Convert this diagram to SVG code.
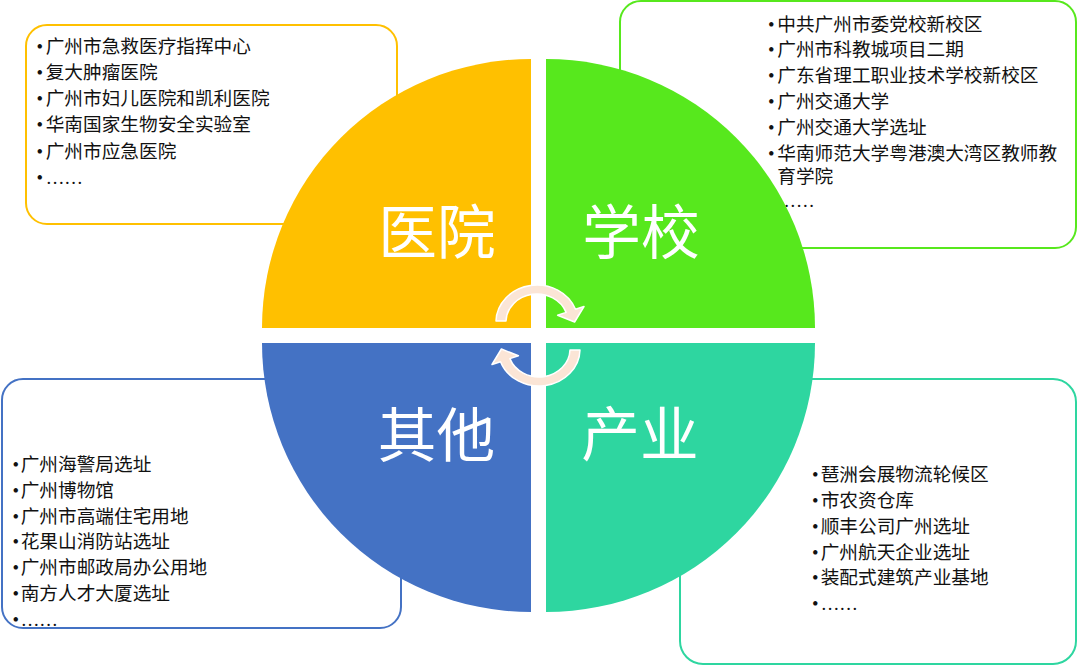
<svg xmlns="http://www.w3.org/2000/svg" width="1078" height="666" viewBox="0 0 1078 666">
<style>
.box{fill:#fff;stroke-width:2}
.t{font-family:"Liberation Serif","Noto Sans CJK SC",serif;font-size:18.67px;fill:#111}
.lbl{font-family:"Noto Sans CJK SC","Noto Sans",sans-serif;font-size:58.67px;fill:#fff;text-anchor:middle}
.arr{fill:#FBE5D6;stroke:#fff;stroke-width:1.5;stroke-linejoin:round}
</style>
<defs>
<path id="cyc" d="M496,321 A41,37 0 0 1 575.5,309.3 L584,306.5 L574.6,322 L557.6,315.2 L566.1,312.4 A31,28 0 0 0 506,321 Z"/>
</defs>
<rect width="1078" height="666" fill="#fff"/>

<g id="node-yiyuan">
<rect class="box" x="26" y="25" width="371" height="199" rx="21" stroke="#FFC000"/>
<text class="t" x="36.5" y="53.2"><tspan>•</tspan><tspan x="45.7">广州市急救医疗指挥中心</tspan></text>
<text class="t" x="36.5" y="79.3"><tspan>•</tspan><tspan x="45.7">复大肿瘤医院</tspan></text>
<text class="t" x="36.5" y="105.3"><tspan>•</tspan><tspan x="45.7">广州市妇儿医院和凯利医院</tspan></text>
<text class="t" x="36.5" y="131.4"><tspan>•</tspan><tspan x="45.7">华南国家生物安全实验室</tspan></text>
<text class="t" x="36.5" y="157.5"><tspan>•</tspan><tspan x="45.7">广州市应急医院</tspan></text>
<text class="t" x="36.5" y="183.5"><tspan>•</tspan><tspan x="45.7">……</tspan></text>
<path d="M531,328 L262,328 A269,269 0 0 1 531,59 Z" fill="#FFC000"/>
<text class="lbl" x="437" y="253.5">医院</text>
</g>

<g id="node-xuexiao">
<rect class="box" x="620" y="1" width="456" height="247" rx="21" stroke="#57E81D"/>
<text class="t" x="768" y="30.5"><tspan>•</tspan><tspan x="777.3">中共广州市委党校新校区</tspan></text>
<text class="t" x="768" y="56.3"><tspan>•</tspan><tspan x="777.3">广州市科教城项目二期</tspan></text>
<text class="t" x="768" y="82"><tspan>•</tspan><tspan x="777.3">广东省理工职业技术学校新校区</tspan></text>
<text class="t" x="768" y="108"><tspan>•</tspan><tspan x="777.3">广州交通大学</tspan></text>
<text class="t" x="768" y="134"><tspan>•</tspan><tspan x="777.3">广州交通大学选址</tspan></text>
<text class="t" x="768" y="160"><tspan>•</tspan><tspan x="777.3">华南师范大学粤港澳大湾区教师教</tspan><tspan x="777.3" y="183">育学院</tspan></text>
<text class="t" x="768" y="207"><tspan>•</tspan><tspan x="777.3">……</tspan></text>
<path d="M546,328 L546,59 A269,269 0 0 1 815,328 Z" fill="#57E81D"/>
<text class="lbl" x="641" y="253.5">学校</text>
</g>

<g id="node-qita">
<rect class="box" x="2" y="379" width="399" height="249" rx="21" stroke="#4472C4"/>
<text class="t" x="12.5" y="471"><tspan>•</tspan><tspan x="20.7">广州海警局选址</tspan></text>
<text class="t" x="12.5" y="496.8"><tspan>•</tspan><tspan x="20.7">广州博物馆</tspan></text>
<text class="t" x="12.5" y="522.6"><tspan>•</tspan><tspan x="20.7">广州市高端住宅用地</tspan></text>
<text class="t" x="12.5" y="548.4"><tspan>•</tspan><tspan x="20.7">花果山消防站选址</tspan></text>
<text class="t" x="12.5" y="574.2"><tspan>•</tspan><tspan x="20.7">广州市邮政局办公用地</tspan></text>
<text class="t" x="12.5" y="600"><tspan>•</tspan><tspan x="20.7">南方人才大厦选址</tspan></text>
<text class="t" x="12.5" y="625.8"><tspan>•</tspan><tspan x="20.7">……</tspan></text>
<path d="M531,343 L262,343 A269,269 0 0 0 531,612 Z" fill="#4472C4"/>
<text class="lbl" x="436.5" y="457">其他</text>
</g>

<g id="node-chanye">
<rect class="box" x="680" y="379" width="396" height="285" rx="23" stroke="#2ED6A0"/>
<text class="t" x="812" y="480.8"><tspan>•</tspan><tspan x="820.7">琶洲会展物流轮候区</tspan></text>
<text class="t" x="812" y="506.7"><tspan>•</tspan><tspan x="820.7">市农资仓库</tspan></text>
<text class="t" x="812" y="532.6"><tspan>•</tspan><tspan x="820.7">顺丰公司广州选址</tspan></text>
<text class="t" x="812" y="558.5"><tspan>•</tspan><tspan x="820.7">广州航天企业选址</tspan></text>
<text class="t" x="812" y="584.4"><tspan>•</tspan><tspan x="820.7">装配式建筑产业基地</tspan></text>
<text class="t" x="812" y="610.3"><tspan>•</tspan><tspan x="820.7">……</tspan></text>
<path d="M546,343 L815,343 A269,269 0 0 1 546,612 Z" fill="#2ED6A0"/>
<text class="lbl" x="640" y="456">产业</text>
</g>

<g id="connectors">
<use href="#cyc" class="arr"/>
<use href="#cyc" class="arr" transform="rotate(180 538 335.5)"/>
</g>
</svg>
